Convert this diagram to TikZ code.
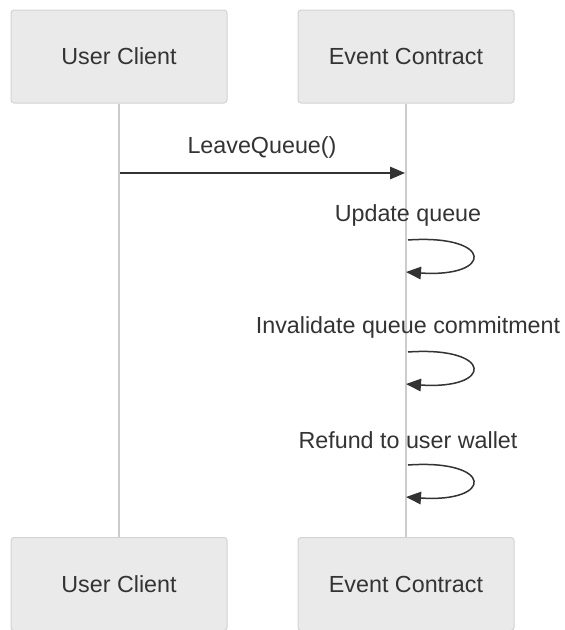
\documentclass[tikz,border=0pt]{standalone}
\usepackage{fontspec}
\setmainfont{Liberation Sans}
\usetikzlibrary{arrows.meta}
\definecolor{boxfill}{HTML}{EAEAEA}
\definecolor{boxline}{HTML}{D3D3D3}
\definecolor{lifeline}{HTML}{CCCCCC}
\definecolor{ink}{HTML}{333333}
\tikzset{
  actor/.style={draw=boxline, line width=1pt, fill=boxfill, rounded corners=3pt,
    minimum width=216pt, minimum height=93pt, inner sep=0pt,
    text=ink, font=\fontsize{23.3}{27}\selectfont},
  life/.style={draw=lifeline, line width=2pt},
  msg/.style={draw=ink, line width=1.5pt, -{Triangle[length=15pt,width=12.5pt]}},
  msglabel/.style={text=ink, font=\fontsize{23.3}{27}\selectfont, inner sep=0pt}
}
\begin{document}
\begin{tikzpicture}[x=1pt,y=-1pt]
\useasboundingbox (0,0) rectangle (565,630);
% participants
\node[actor] (uTop) at (119,56.5) {User Client};
\node[actor] (eTop) at (406,56.5) {Event Contract};
\node[actor] (uBot) at (119,584) {User Client};
\node[actor] (eBot) at (406,584) {Event Contract};
% lifelines
\draw[life] (uTop.south) -- (uBot.north);
\draw[life] (eTop.south) -- (eBot.north);
% call message
\coordinate (cFrom) at (120,173);
\coordinate (cTo) at (405,173);
\draw[msg] (cFrom) -- (cTo);
\node[msglabel] (lCall) at (262,147) {LeaveQueue()};
% self messages
\foreach \y/\txt [count=\i] in {240/Update queue, 352/Invalidate queue commitment, 465/Refund to user wallet}{
  \node[msglabel] (lSelf\i) at (408,\y-25) {\txt};
  \coordinate (sA\i) at (408,\y);
  \coordinate (sB\i) at (406,\y+32);
  \draw[msg] (sA\i) .. controls (494,\y-6) and (494,\y+38) .. (sB\i);
}
\end{tikzpicture}
\end{document}
